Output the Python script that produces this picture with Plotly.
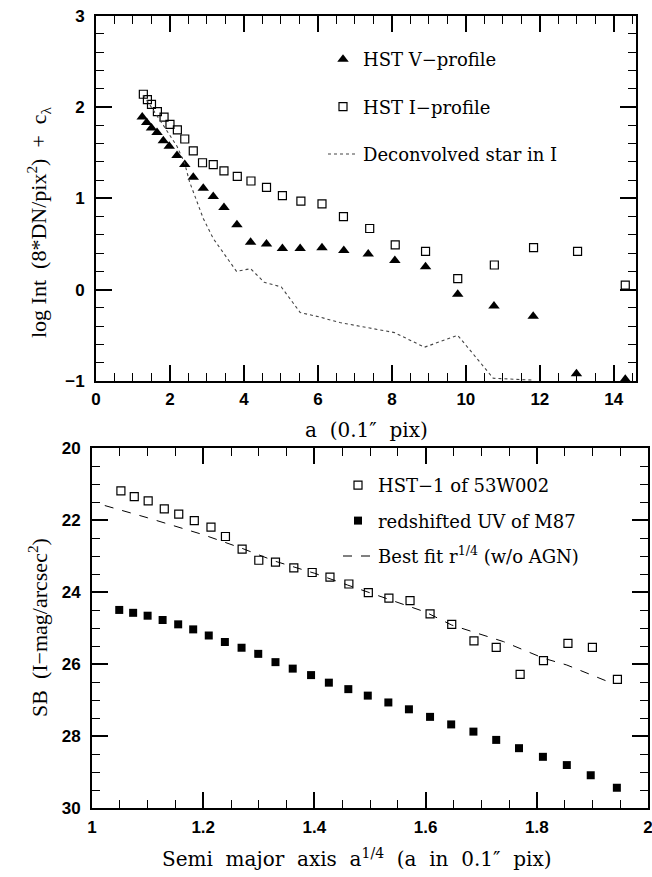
import plotly.graph_objects as go

# ---------------- Top panel data ----------------
v_x = [1.25, 1.37, 1.50, 1.65, 1.82, 1.98, 2.19, 2.40, 2.63, 2.90, 3.17, 3.46, 3.81, 4.18,
       4.61, 5.04, 5.52, 6.11, 6.70, 7.36, 8.08, 8.91, 9.78, 10.76, 11.82, 12.99, 14.31]
v_y = [1.89, 1.83, 1.77, 1.72, 1.63, 1.57, 1.47, 1.37, 1.23, 1.11, 1.02, 0.90, 0.71, 0.52,
       0.50, 0.45, 0.45, 0.46, 0.43, 0.39, 0.32, 0.25, -0.05, -0.18, -0.29, -0.92, -0.98]

i_x = [1.28, 1.39, 1.50, 1.66, 1.84, 2.00, 2.20, 2.40, 2.63, 2.88, 3.17, 3.46, 3.82, 4.19,
       4.61, 5.04, 5.54, 6.11, 6.69, 7.40, 8.09, 8.91, 9.78, 10.77, 11.83, 13.02, 14.31]
i_y = [2.14, 2.08, 2.03, 1.95, 1.89, 1.81, 1.75, 1.65, 1.52, 1.39, 1.37, 1.30, 1.24, 1.19,
       1.12, 1.03, 0.97, 0.94, 0.80, 0.67, 0.49, 0.42, 0.12, 0.27, 0.46, 0.42, 0.05]

star_x = [1.28, 1.50, 1.82, 2.19, 2.40, 2.53, 2.72, 2.90, 3.17, 3.46, 3.80, 4.18, 4.55,
          5.01, 5.52, 6.05, 6.59, 7.40, 8.07, 8.88, 9.78, 10.74, 11.80]
star_y = [2.13, 1.99, 1.80, 1.57, 1.38, 1.18, 0.98, 0.78, 0.56, 0.39, 0.20, 0.23, 0.08,
          0.03, -0.25, -0.30, -0.36, -0.42, -0.47, -0.63, -0.50, -0.97, -0.99]

# ---------------- Bottom panel data ----------------
hst_x = [1.052, 1.076, 1.101, 1.130, 1.156, 1.184, 1.214, 1.240, 1.270, 1.300, 1.330, 1.363,
         1.396, 1.428, 1.462, 1.497, 1.534, 1.572, 1.608, 1.647, 1.687, 1.727, 1.770, 1.812,
         1.856, 1.900, 1.945]
hst_y = [21.18, 21.34, 21.46, 21.68, 21.83, 22.01, 22.19, 22.45, 22.80, 23.11, 23.16, 23.32,
         23.45, 23.58, 23.77, 24.01, 24.16, 24.23, 24.60, 24.89, 25.35, 25.53, 26.28, 25.90,
         25.42, 25.53, 26.42]

m87_x = [1.049, 1.074, 1.100, 1.127, 1.155, 1.182, 1.210, 1.239, 1.269, 1.299, 1.330, 1.361,
         1.394, 1.426, 1.461, 1.496, 1.533, 1.570, 1.608, 1.646, 1.686, 1.727, 1.768, 1.811,
         1.854, 1.897, 1.944]
m87_y = [24.49, 24.57, 24.65, 24.77, 24.89, 25.03, 25.20, 25.38, 25.54, 25.71, 25.94, 26.12,
         26.30, 26.51, 26.69, 26.87, 27.06, 27.25, 27.46, 27.67, 27.87, 28.10, 28.33, 28.57,
         28.80, 29.08, 29.43]

fit_x = [1.023, 1.10, 1.20, 1.27, 1.33, 1.40, 1.46, 1.53, 1.60, 1.647, 1.74, 1.812, 1.854, 1.936]
fit_y = [21.59, 21.93, 22.40, 22.78, 23.14, 23.47, 23.80, 24.17, 24.55, 24.91, 25.37, 25.83, 26.02, 26.53]

top_yticks = [-1, 0, 1, 2, 3]
top_yticktext = ["\u22121", "0", "1", "2", "3"]
bot_xticks = [1, 1.2, 1.4, 1.6, 1.8, 2]
bot_xticktext = ["1", "1.2", "1.4", "1.6", "1.8", "2"]

SERIF = "DejaVu Serif"
TSERIF = "Liberation Serif"
SANS = "Liberation Sans"

fig = go.Figure()

# top panel traces
fig.add_trace(go.Scatter(x=v_x, y=v_y, mode="markers", name="HST V\u2212profile",
                         marker=dict(symbol="triangle-up", size=10, color="black"),
                         xaxis="x", yaxis="y", cliponaxis=False, legend="legend",
                         legendgroup="a"))
fig.add_trace(go.Scatter(x=i_x, y=i_y, mode="markers", name="HST I\u2212profile",
                         marker=dict(symbol="square-open", size=8, color="black",
                                     line=dict(width=1.2)),
                         xaxis="x", yaxis="y", cliponaxis=False, legend="legend",
                         legendgroup="b"))
fig.add_trace(go.Scatter(x=star_x, y=star_y, mode="lines", name="Deconvolved star in I",
                         line=dict(color="#444444", width=1.1, dash="dot"),
                         xaxis="x", yaxis="y", legend="legend", legendgroup="c"))

# bottom panel traces
fig.add_trace(go.Scatter(x=hst_x, y=hst_y, mode="markers", name="HST\u22121 of 53W002",
                         marker=dict(symbol="square-open", size=8, color="black",
                                     line=dict(width=1.2)),
                         xaxis="x2", yaxis="y2", legend="legend2", legendgroup="d"))
fig.add_trace(go.Scatter(x=m87_x, y=m87_y, mode="markers", name="redshifted UV of M87",
                         marker=dict(symbol="square", size=8, color="black"),
                         xaxis="x2", yaxis="y2", legend="legend2", legendgroup="e"))
fig.add_trace(go.Scatter(x=fit_x, y=fit_y, mode="lines",
                         name="Best fit r<sup>1/4</sup> (w/o AGN)",
                         line=dict(color="black", width=1, dash="dash"),
                         xaxis="x2", yaxis="y2", legend="legend2", legendgroup="f"))

W, H = 652, 877

def px_x(p):
    return p / W

def px_y(p):
    return 1 - p / H

tickfont = dict(family=SANS, size=17, color="black", weight="bold")

def axis(domain, rng, dtick, mdtick, anchor, tlen=16, mlen=8, standoff=2):
    return dict(domain=domain, range=rng, dtick=dtick, tick0=0,
                ticks="inside", ticklen=tlen, tickwidth=1.5, tickcolor="black",
                minor=dict(ticks="inside", dtick=mdtick, ticklen=mlen, tickwidth=1.3,
                           tickcolor="black", showgrid=False),
                showline=True, linecolor="black", linewidth=1.8, mirror="ticks",
                showgrid=False, zeroline=False, tickfont=tickfont, anchor=anchor,
                autorange=False, automargin=False, ticklabelstandoff=standoff,
                ticklabeloverflow="allow")

legfont = dict(family=SERIF, size=18, color="black")

fig.update_layout(
    width=W, height=H,
    margin=dict(l=0, r=0, t=0, b=0, autoexpand=False),
    paper_bgcolor="white", plot_bgcolor="white",
    xaxis=axis([px_x(96), px_x(636)], [0, 14.6], 2, 0.5, "y"),
    yaxis=axis([px_y(381), px_y(15.7)], [-1, 3], 1, 0.2, "x", standoff=6),
    xaxis2=axis([px_x(92), px_x(648)], [1, 2], 0.2, 0.05, "y2"),
    yaxis2=axis([px_y(808.3), px_y(448.3)], [30, 20], 2, 0.5, "x2", standoff=6),
    legend=dict(x=px_x(323), y=px_y(41), xanchor="left", yanchor="top",
                bgcolor="rgba(0,0,0,0)", font=legfont,
                tracegroupgap=21, traceorder="grouped"),
    legend2=dict(x=px_x(338), y=px_y(467), xanchor="left", yanchor="top",
                 bgcolor="rgba(0,0,0,0)", font=legfont,
                 tracegroupgap=9, traceorder="grouped"),
    showlegend=True,
)
fig.layout.xaxis2.tickvals = bot_xticks
fig.layout.xaxis2.ticktext = bot_xticktext
fig.layout.yaxis.tickvals = top_yticks
fig.layout.yaxis.ticktext = top_yticktext

titlefont = dict(family=SERIF, size=20, color="black")
S2 = "\u00a0\u00a0"
fig.add_annotation(text="a" + S2 + "(0.1\u2033" + S2 + "pix)", xref="paper", yref="paper",
                   x=px_x(366), y=px_y(430), showarrow=False, font=titlefont,
                   xanchor="center", yanchor="middle")
fig.add_annotation(text=S2.join(["Semi", "major", "axis", "a<sup>1/4</sup>", "(a", "in",
                                 "0.1\u2033", "pix)"]),
                   xref="paper", yref="paper", x=px_x(357), y=px_y(858), showarrow=False,
                   font=titlefont, xanchor="center", yanchor="middle")
ytfont = dict(family=TSERIF, size=22, color="black")
fig.add_annotation(text="log\u00a0Int\u00a0\u00a0(8*DN/pix<sup>2</sup>)\u00a0\u00a0+\u00a0\u00a0c<sub>\u03bb</sub>",
                   xref="paper", yref="paper", x=px_x(38), y=px_y(222), showarrow=False,
                   font=ytfont, textangle=-90, xanchor="center", yanchor="middle")
fig.add_annotation(text="SB\u00a0\u00a0(I\u2212mag/arcsec<sup>2</sup>)",
                   xref="paper", yref="paper", x=px_x(38), y=px_y(628), showarrow=False,
                   font=ytfont, textangle=-90, xanchor="center", yanchor="middle")

fig.write_html("out.html", config={"displayModeBar": False},
               post_script="document.body.style.margin='0px';document.body.style.overflow='hidden';")
